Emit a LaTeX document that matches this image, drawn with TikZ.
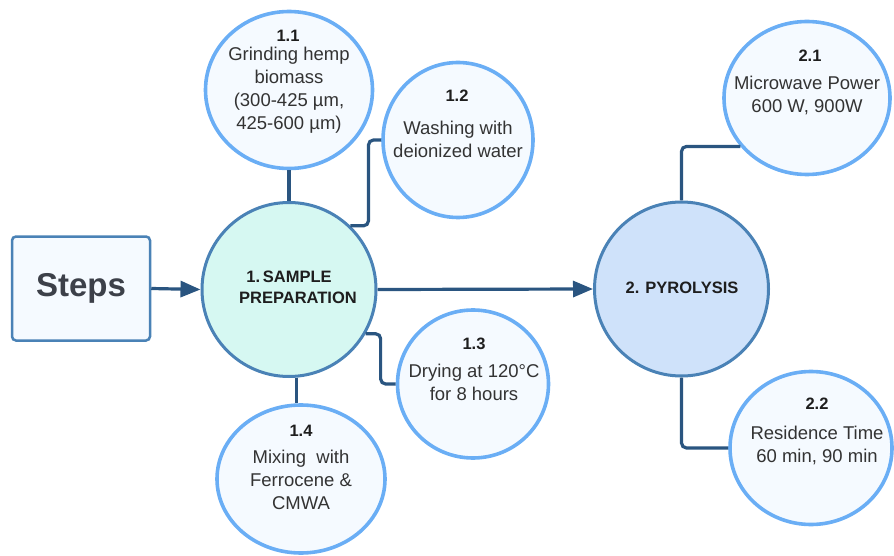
\documentclass[tikz,border=0pt]{standalone}
\usepackage{fontspec}
\setmainfont{Liberation Sans}
\usetikzlibrary{shapes.geometric,arrows.meta}

\definecolor{boxfill}{HTML}{F5FAFF}
\definecolor{subedge}{HTML}{6AAEF5}
\definecolor{mainedge}{HTML}{4A82B6}
\definecolor{prepfill}{HTML}{D6F8F2}
\definecolor{pyrofill}{HTML}{CFE2FA}
\definecolor{wire}{HTML}{2A5580}
\definecolor{txt}{HTML}{333333}
\definecolor{titletxt}{HTML}{1E1E1E}
\definecolor{stepstxt}{HTML}{3C4049}

\tikzset{
  substep/.style={shape=ellipse, draw=subedge, line width=3.6pt, fill=boxfill, inner sep=0pt},
  mainstep/.style={shape=circle, draw=mainedge, line width=3pt, inner sep=0pt, minimum size=174pt},
  subtitle/.style={font=\fontsize{16.5}{19}\selectfont\bfseries, text=titletxt, inner sep=0pt},
  subbody/.style={font=\fontsize{18.5}{23}\selectfont, text=txt, align=center, inner sep=0pt},
  maintext/.style={font=\fontsize{16.5}{20}\selectfont\bfseries, text=titletxt, inner sep=0pt},
  wireline/.style={draw=wire, line width=3.2pt, rounded corners=5pt},
  flow/.style={draw=wire, line width=3.2pt, -{Triangle[length=20pt,width=16pt]}},
}

\begin{document}
\begin{tikzpicture}[x=1pt,y=-1pt]
\useasboundingbox (0,0) rectangle (894,556);

% start box
\node[draw=mainedge, line width=2.5pt, fill=boxfill, rounded corners=4pt,
      minimum width=138pt, minimum height=104pt, inner sep=0pt,
      font=\fontsize{33}{36}\selectfont\bfseries, text=stepstxt] (steps) at (81,288.5) {Steps};

% main stages
\node[mainstep, fill=prepfill] (prep) at (289,289.5) {};
\node[maintext] (prep1) at (289,277) {1.\,SAMPLE};
\node[maintext] (prep2) at (298,298) {PREPARATION};

\node[mainstep, fill=pyrofill] (pyro) at (681.5,289) {};
\node[maintext] (pyrot) at (682,288) {2. PYROLYSIS};

% sub-steps of stage 1
\node[substep, minimum width=167pt, minimum height=157pt] (n11) at (289,90) {};
\node[subtitle] (n11t) at (288,36) {1.1};
\node[subbody] (n11b) at (289,90) {Grinding hemp\\biomass\\(300-425 µm,\\425-600 µm)};

\node[substep, minimum width=150pt, minimum height=155pt] (n12) at (458,140) {};
\node[subtitle] (n12t) at (457,96) {1.2};
\node[subbody] (n12b) at (458,139) {Washing with\\deionized water};

\node[substep, minimum width=151pt, minimum height=148pt] (n13) at (473,384) {};
\node[subtitle] (n13t) at (474,344) {1.3};
\node[subbody] (n13b) at (474,382) {Drying at 120°C\\for 8 hours};

\node[substep, minimum width=168pt, minimum height=148pt] (n14) at (301,479) {};
\node[subtitle] (n14t) at (301,431) {1.4};
\node[subbody] (n14b) at (301,480) {Mixing\ \ with\\Ferrocene \&\\CMWA};

% sub-steps of stage 2
\node[substep, minimum width=166pt, minimum height=153pt] (n21) at (807,98) {};
\node[subtitle] (n21t) at (810,56) {2.1};
\node[subbody] (n21b) at (807,95) {Microwave Power\\600 W, 900W};

\node[substep, minimum width=162pt, minimum height=153pt] (n22) at (811,448) {};
\node[subtitle] (n22t) at (817,404) {2.2};
\node[subbody] (n22b) at (817,445) {Residence Time\\60 min, 90 min};

% main flow
\draw[flow] (steps.east) -- (prep.west);
\draw[flow] (prep.east) -- (pyro.west);

% branches
\draw[wireline] (prep.north) -- (n11.south);
\draw[wireline] (prep.46) -- ++(18,0) |- (n12.west);
\draw[wireline] (prep.-30) -- ++(15,0) |- (n13.west);
\draw[wireline] (prep.-85) -- (prep.-85 |- n14.north);
\draw[wireline] (pyro.north) |- (n21.216);
\draw[wireline] (pyro.south) |- (n22.west);
\end{tikzpicture}
\end{document}
